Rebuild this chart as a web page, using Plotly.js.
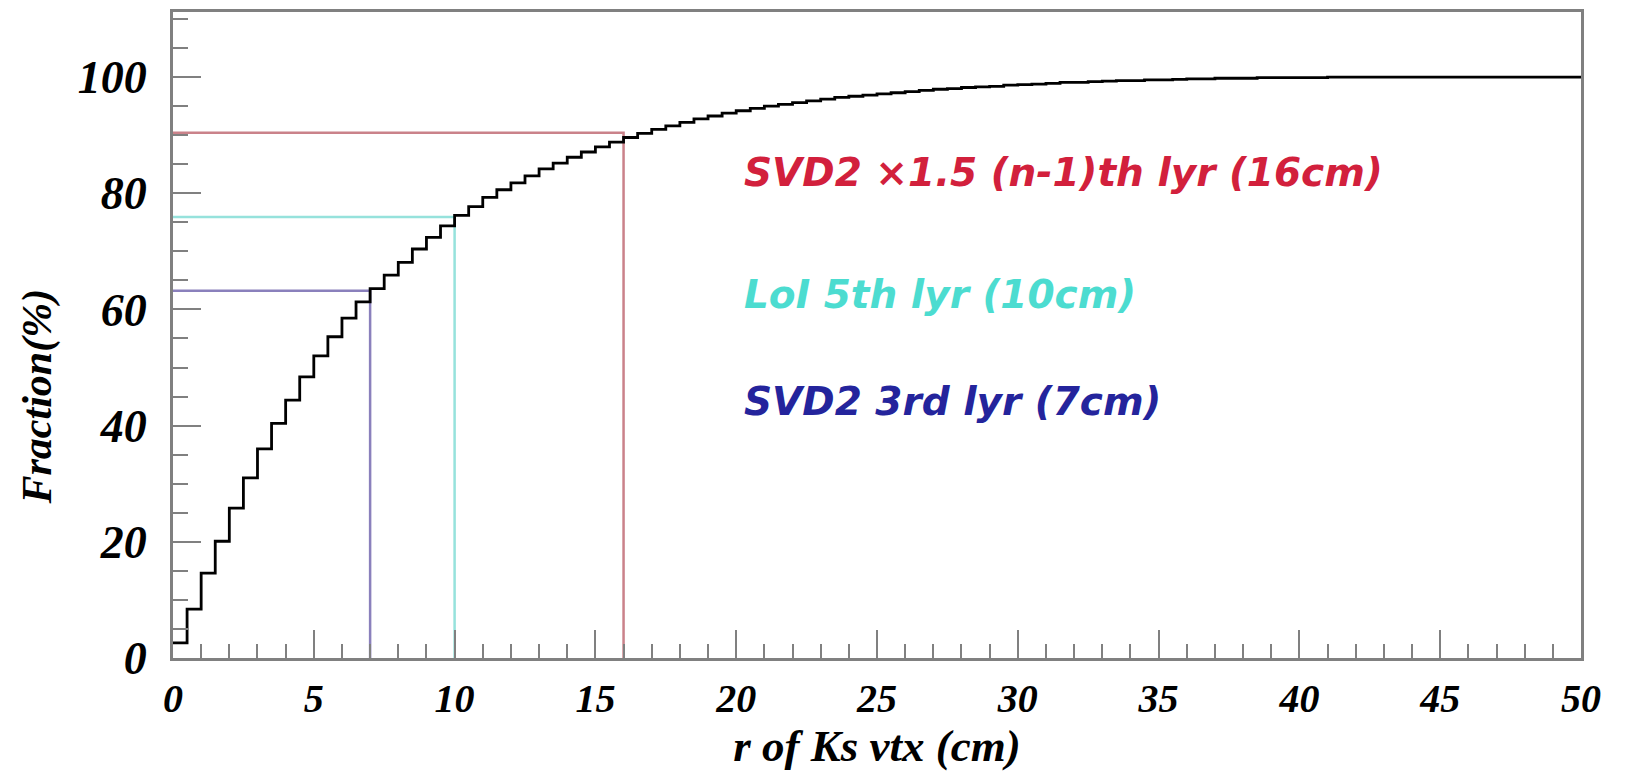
<!DOCTYPE html>
<html>
<head>
<meta charset="utf-8">
<script src="https://cdn.plot.ly/plotly-3.0.1.min.js"></script>
<style>html,body{margin:0;padding:0;background:#fff;}#chart{width:1634px;height:773px;}</style>
</head>
<body>
<div id="chart"></div>
<script>
// Bin edges of the cumulative histogram (cm)
const binEdges = [
  0, 0.5, 1, 1.5, 2, 2.5, 3, 3.5, 4, 4.5,
  5, 5.5, 6, 6.5, 7, 7.5, 8, 8.5, 9, 9.5,
  10, 10.5, 11, 11.5, 12, 12.5, 13, 13.5, 14, 14.5,
  15, 15.5, 16, 16.5, 17, 17.5, 18, 18.5, 19, 19.5,
  20, 20.5, 21, 21.5, 22, 22.5, 23, 23.5, 24, 24.5,
  25, 25.5, 26, 26.5, 27, 27.5, 28, 28.5, 29, 29.5,
  30, 30.5, 31, 31.5, 32, 32.5, 33, 33.5, 34, 34.5,
  35, 35.5, 36, 36.5, 37, 37.5, 38, 38.5, 39, 39.5,
  40, 40.5, 41, 41.5, 42, 42.5, 43, 43.5, 44, 44.5,
  45, 45.5, 46, 46.5, 47, 47.5, 48, 48.5, 49, 49.5,
  50
];
// Cumulative fraction (%) in each bin
const fraction = [
  2.6, 8.4, 14.6, 20.1, 25.8, 31.0, 36.0, 40.4, 44.4, 48.4,
  52.0, 55.3, 58.5, 61.3, 63.6, 65.9, 68.1, 70.4, 72.4, 74.4,
  76.2, 77.7, 79.3, 80.6, 81.8, 83.0, 84.2, 85.2, 86.2, 87.1,
  88.0, 88.8, 89.6, 90.3, 91.0, 91.6, 92.2, 92.8, 93.3, 93.8,
  94.2, 94.6, 95.0, 95.3, 95.6, 95.9, 96.2, 96.5, 96.7, 96.9,
  97.1, 97.3, 97.5, 97.7, 97.9, 98.0, 98.2, 98.3, 98.4, 98.6,
  98.7, 98.8, 98.9, 99.1, 99.1, 99.2, 99.3, 99.4, 99.4, 99.5,
  99.5, 99.6, 99.7, 99.7, 99.8, 99.8, 99.8, 99.9, 99.9, 99.9,
  99.9, 99.9, 100, 100, 100, 100, 100, 100, 100, 100,
  100, 100, 100, 100, 100, 100, 100, 100, 100, 100
];
// Detector layer radii (cm) and the fraction reached there (%)
const layerNames = ["SVD2 3rd lyr (7cm)", "LoI 5th lyr (10cm)", "SVD2 \u00d71.5 (n-1)th lyr (16cm)"];
const layerRadius = [7, 10, 16];
const layerFraction = [63.2, 75.9, 90.4];
const layerLineColors = ["rgb(138,128,188)", "rgb(150,226,220)", "rgb(202,130,138)"];
const layerTextColors = ["#24249c", "#4cdcd0", "#d2203c"];
const layerTextY = [44.2, 62.6, 83.6];

const xTickVals = [0, 5, 10, 15, 20, 25, 30, 35, 40, 45, 50];
const yTickVals = [0, 20, 40, 60, 80, 100];

const serif = "Liberation Serif, Times New Roman, serif";
const traces = [];
for (let i = 0; i < layerRadius.length; i++) {
  traces.push({
    x: [0, layerRadius[i], layerRadius[i]],
    y: [layerFraction[i], layerFraction[i], 0],
    mode: "lines",
    line: {color: layerLineColors[i], width: 2.5},
    hoverinfo: "skip",
    showlegend: false
  });
}
traces.push({
  x: binEdges,
  y: fraction.concat([fraction[fraction.length - 1]]),
  mode: "lines",
  line: {color: "black", width: 2.8, shape: "hv"},
  showlegend: false
});

const annotations = layerNames.map((t, i) => ({
  text: t, x: 20.2, y: layerTextY[i], xref: "x", yref: "y",
  xanchor: "left", yanchor: "middle", showarrow: false,
  font: {family: "DejaVu Sans, sans-serif", size: 39, weight: "bold", style: "italic", color: layerTextColors[i]}
}));
annotations.push({
  text: "Fraction(%)", textangle: -90, xref: "paper", yref: "paper",
  x: -0.0965, y: 0.405, xanchor: "center", yanchor: "middle", showarrow: false,
  font: {family: serif, size: 42, weight: "bold", style: "italic", color: "black"}
});

const axisCommon = {
  showline: true, linecolor: "#808080", linewidth: 3, mirror: true,
  showgrid: false, zeroline: false,
  ticks: "inside", ticklen: 28, tickwidth: 2, tickcolor: "#808080"
};

const layout = {
  width: 1634, height: 773,
  margin: {l: 173, r: 53, t: 12, b: 115},
  paper_bgcolor: "white", plot_bgcolor: "white",
  xaxis: Object.assign({}, axisCommon, {
    range: [0, 50], tickvals: xTickVals, ticktext: xTickVals.map(String),
    ticklabelstandoff: 3,
    tickfont: {family: serif, size: 40, weight: "bold", style: "italic", color: "black"},
    minor: {dtick: 1, tick0: 0, ticks: "inside", ticklen: 14, tickwidth: 2, tickcolor: "#808080", showgrid: false},
    title: {text: "r of Ks vtx (cm)", standoff: 10,
      font: {family: serif, size: 45, weight: "bold", style: "italic", color: "black"}}
  }),
  yaxis: Object.assign({}, axisCommon, {
    range: [0, 111.2], tickvals: yTickVals, ticktext: yTickVals.map(String),
    ticklabelstandoff: 14,
    tickfont: {family: serif, size: 46, weight: "bold", style: "italic", color: "black"},
    minor: {dtick: 5, tick0: 0, ticks: "inside", ticklen: 15, tickwidth: 2, tickcolor: "#808080", showgrid: false}
  }),
  annotations: annotations,
  showlegend: false
};

Plotly.newPlot("chart", traces, layout, {displayModeBar: false, staticPlot: true});
</script>
</body>
</html>
